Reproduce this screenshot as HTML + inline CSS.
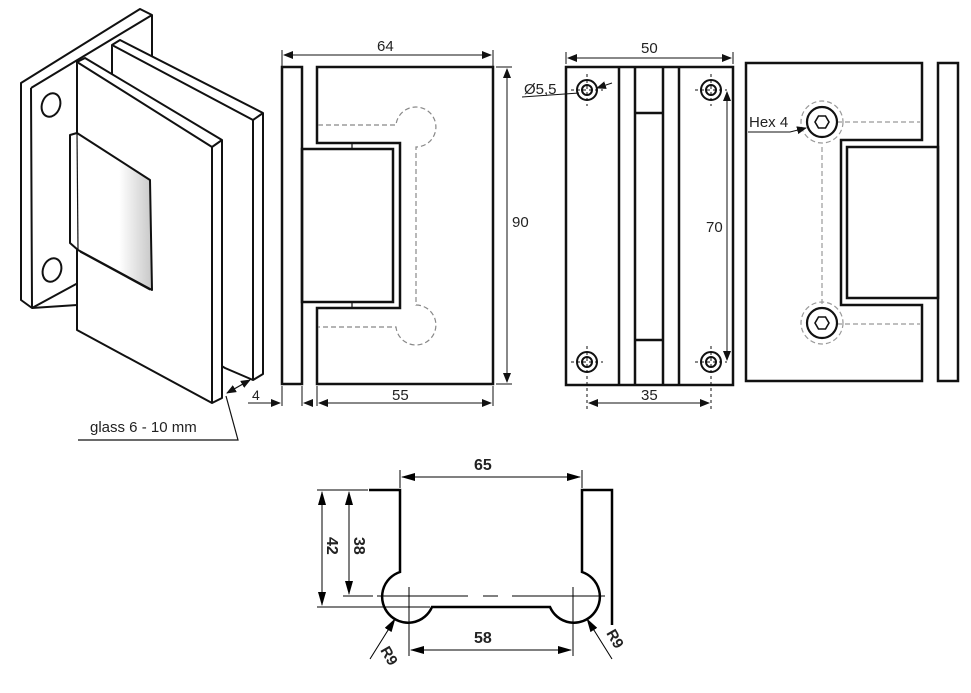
<!DOCTYPE html>
<html><head><meta charset="utf-8"><style>
html,body{margin:0;padding:0;background:#fff}
svg{display:block}
text{font-family:"Liberation Sans",Arial,sans-serif;fill:#222}
</style></head><body>
<svg width="971" height="693" viewBox="0 0 971 693" xmlns="http://www.w3.org/2000/svg">
<defs>
<marker id="a" markerWidth="10" markerHeight="8" refX="9" refY="4" orient="auto-start-reverse" markerUnits="userSpaceOnUse"><path d="M0,0 L10,4 L0,8 z" fill="#111"/></marker>
<marker id="b" markerWidth="14" markerHeight="8" refX="13" refY="4" orient="auto-start-reverse" markerUnits="userSpaceOnUse"><path d="M0,0 L14,4 L0,8 z" fill="#000"/></marker>
<linearGradient id="g" x1="0" x2="1"><stop offset="0.6" stop-color="#fff"/><stop offset="1" stop-color="#c8c8c8"/></linearGradient>
</defs>
<g fill="#fff" stroke="#111" stroke-width="2" stroke-linejoin="round">
<path d="M21,83 L140,9 L152,15 L152,300 L32,308 L21,300 Z"/>
<path d="M31,88 L152,15 M31,88 L32,308 M32,308 L78,283"/>
<ellipse cx="51" cy="105" rx="9" ry="12" transform="rotate(20 51 105)"/>
<ellipse cx="52" cy="270" rx="9" ry="12" transform="rotate(20 52 270)"/>
<path d="M112,45 L120,40 L263,113 L263,374 L253,380 L225,368 L112,300 Z"/>
<path d="M112,45 L253,120 L253,380 M253,120 L263,113"/>
<path d="M77,62 L85,58 L222,140 L222,398 L212,403 L77,330 Z"/>
<path d="M77,62 L212,147 L212,403 M212,147 L222,140"/>
<path d="M70,135 L77,133 L150,180 L152,290 L78,250 L70,243 Z" fill="url(#g)"/>
<path d="M77,133 L78,250" stroke-width="1.2"/>
<path d="M80,252 L150,290" stroke-width="1"/>
</g>
<g stroke="#111" stroke-width="1.2" fill="none">
<line x1="227" y1="393" x2="250" y2="380" marker-start="url(#a)" marker-end="url(#a)"/>
<polyline points="78,440 238,440 226,396"/>
</g>
<text x="90" y="432" font-size="15">glass 6 - 10 mm</text>

<g fill="none" stroke="#111" stroke-width="2.5">
<rect x="282" y="67" width="20" height="317"/>
<path d="M317,67 H493 V384 H317 V308 H400 V143 H317 Z"/>
<rect x="302" y="149" width="91" height="153"/>
</g>
<g stroke="#111" stroke-width="1.2"><line x1="352" y1="143" x2="352" y2="149"/><line x1="352" y1="302" x2="352" y2="308"/></g>
<g fill="none" stroke="#888" stroke-width="1.2" stroke-dasharray="5,3">
<path d="M318,125 H396 A20,20 0 1 1 416,147 V305 A20,20 0 1 1 396,327 H318"/>
</g>
<g stroke="#111" stroke-width="1" fill="none">
<line x1="282" y1="67" x2="282" y2="50"/><line x1="493" y1="67" x2="493" y2="50"/>
<line x1="284" y1="55" x2="491" y2="55" marker-start="url(#a)" marker-end="url(#a)"/>
<line x1="496" y1="67" x2="512" y2="67"/><line x1="496" y1="384" x2="512" y2="384"/>
<line x1="507" y1="69" x2="507" y2="382" marker-start="url(#a)" marker-end="url(#a)"/>
<line x1="282" y1="386" x2="282" y2="406"/><line x1="302" y1="386" x2="302" y2="406"/>
<line x1="317" y1="386" x2="317" y2="406"/><line x1="493" y1="386" x2="493" y2="406"/>
<line x1="248" y1="403" x2="280" y2="403" marker-end="url(#a)"/>
<line x1="312" y1="403" x2="304" y2="403" marker-end="url(#a)"/>
<line x1="319" y1="403" x2="491" y2="403" marker-start="url(#a)" marker-end="url(#a)"/>
</g>
<text x="377" y="51" font-size="15">64</text>
<text x="512" y="227" font-size="15">90</text>
<text x="252" y="400" font-size="14">4</text>
<text x="392" y="400" font-size="15">55</text>

<g fill="none" stroke="#111" stroke-width="2.5">
<rect x="566" y="67" width="167" height="318"/>
<line x1="619" y1="67" x2="619" y2="385"/><line x1="635" y1="67" x2="635" y2="385"/>
<line x1="663" y1="67" x2="663" y2="385"/><line x1="679" y1="67" x2="679" y2="385"/>
<line x1="635" y1="113" x2="663" y2="113"/><line x1="635" y1="340" x2="663" y2="340"/>
</g>
<g fill="none" stroke="#111" stroke-width="2">
<circle cx="587" cy="90" r="10"/><circle cx="587" cy="90" r="5"/>
<circle cx="711" cy="90" r="10"/><circle cx="711" cy="90" r="5"/>
<circle cx="587" cy="362" r="10"/><circle cx="587" cy="362" r="5"/>
<circle cx="711" cy="362" r="10"/><circle cx="711" cy="362" r="5"/>
</g>
<g stroke="#111" stroke-width="1" stroke-dasharray="3,3" fill="none">
<path d="M587,74 V106 M571,90 H603 M711,74 V106 M695,90 H727 M571,362 H603 M695,362 H727 M587,346 V412 M711,346 V412"/>
</g>
<g stroke="#111" stroke-width="1" fill="none">
<line x1="566" y1="64" x2="566" y2="52"/><line x1="733" y1="64" x2="733" y2="52"/>
<line x1="568" y1="58" x2="731" y2="58" marker-start="url(#a)" marker-end="url(#a)"/>
<line x1="727" y1="92" x2="727" y2="360" marker-start="url(#a)" marker-end="url(#a)"/>
<line x1="589" y1="403" x2="709" y2="403" marker-start="url(#a)" marker-end="url(#a)"/>
<polyline points="522,97 579,93"/>
<line x1="612" y1="83" x2="597" y2="88" marker-end="url(#a)"/>
</g>
<text x="641" y="53" font-size="15">50</text>
<text x="524" y="94" font-size="15">Ø5,5</text>
<text x="706" y="232" font-size="15">70</text>
<text x="641" y="400" font-size="15">35</text>

<g fill="none" stroke="#111" stroke-width="2.5">
<path d="M746,63 H922 V140 H841 V305 H922 V381 H746 Z"/>
<rect x="847" y="147" width="91" height="151"/>
<rect x="938" y="63" width="20" height="318"/>
</g>
<g fill="none" stroke="#999" stroke-width="1.2" stroke-dasharray="5,3">
<path d="M837,122 H920 M837,324 H920 M822,147 V305"/>
<circle cx="822" cy="122" r="21"/><circle cx="822" cy="323" r="21"/>
</g>
<g fill="#fff" stroke="#111" stroke-width="2.2">
<circle cx="822" cy="122" r="15"/><circle cx="822" cy="323" r="15"/>
<polygon points="829,122 825.5,128 818.5,128 815,122 818.5,116 825.5,116" stroke-width="1.6"/>
<polygon points="829,323 825.5,329 818.5,329 815,323 818.5,317 825.5,317" stroke-width="1.6"/>
</g>
<polyline points="748,132 790,132 806,128" fill="none" stroke="#111" stroke-width="1" marker-end="url(#a)"/>
<text x="749" y="127" font-size="15">Hex 4</text>

<g fill="none" stroke="#000" stroke-width="2.5">
<path d="M369,490 H400 V572 A26,26 0 1 0 432,607 H550 A26,26 0 1 0 582,572 V490 H612 V625"/>
</g>
<g stroke="#000" stroke-width="1" fill="none">
<line x1="400" y1="488" x2="400" y2="470"/><line x1="582" y1="488" x2="582" y2="470"/>
<line x1="402" y1="477" x2="580" y2="477" marker-start="url(#b)" marker-end="url(#b)"/>
<line x1="317" y1="490" x2="368" y2="490"/>
<line x1="317" y1="607" x2="430" y2="607"/>
<line x1="322" y1="492" x2="322" y2="605" marker-start="url(#b)" marker-end="url(#b)"/>
<line x1="349" y1="492" x2="349" y2="594" marker-start="url(#b)" marker-end="url(#b)"/>
<path d="M343,596 H373 M377,596 H468 M483,596 H498 M512,596 H605"/>
<line x1="409" y1="587" x2="409" y2="656"/><line x1="573" y1="587" x2="573" y2="656"/>
<line x1="411" y1="650" x2="571" y2="650" marker-start="url(#b)" marker-end="url(#b)"/>
<line x1="370" y1="659" x2="395" y2="619" marker-end="url(#b)"/>
<line x1="612" y1="659" x2="587" y2="619" marker-end="url(#b)"/>
</g>
<g font-weight="bold" style="font-family:'Liberation Sans Narrow','Liberation Sans',sans-serif">
<text x="474" y="470" font-size="16">65</text>
<text x="474" y="643" font-size="16">58</text>
<text font-size="16" transform="translate(327,537) rotate(90)">42</text>
<text font-size="16" transform="translate(354,537) rotate(90)">38</text>
<text font-size="15" transform="translate(380,650) rotate(60)">R9</text>
<text font-size="15" transform="translate(606,633) rotate(60)">R9</text>
</g>
</svg>
</body></html>
